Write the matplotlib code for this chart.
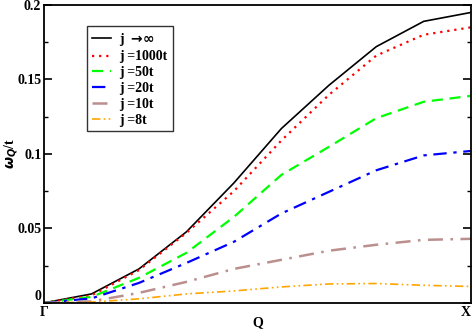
import numpy as np
import matplotlib.pyplot as plt
from matplotlib.ticker import MultipleLocator

plt.rcParams['font.family'] = ['Liberation Serif', 'DejaVu Serif']
plt.rcParams['font.weight'] = 'bold'

q = np.linspace(0, 1, 10)
j_inf = [0, 0.006, 0.0228, 0.0477, 0.0805, 0.117, 0.146, 0.172, 0.189, 0.195]
j_1000 = [0, 0.005, 0.022, 0.047, 0.075, 0.109, 0.1396, 0.166, 0.180, 0.185]
j_50 = [0, 0.004, 0.0168, 0.0336, 0.0577, 0.0859, 0.1047, 0.124, 0.135, 0.139]
j_20 = [0, 0.003, 0.0134, 0.0268, 0.041, 0.060, 0.0745, 0.089, 0.099, 0.102]
j_10 = [0, 0.001, 0.0067, 0.0141, 0.0228, 0.0289, 0.0350, 0.039, 0.0423, 0.043]
j_8 = [0, 0.0005, 0.0027, 0.006, 0.008, 0.0107, 0.0127, 0.0130, 0.0118, 0.0110]

fig = plt.figure(figsize=(4.74, 3.31), dpi=100)
ax = fig.add_axes([0.093, 0.085, 0.901, 0.9])

ax.plot(q, j_inf, color='black', lw=1.2, label=r'j $\rightarrow\!\infty$')
ax.plot(q, j_1000, color='red', lw=1.6, ls=(0, (1, 2.2)), label='j =1000t')
ax.plot(q, j_50, color='#00ff00', lw=1.6, ls=(0, (5, 3)), label='j =50t')
ax.plot(q, j_20, color='blue', lw=1.6, ls=(0, (6, 3, 1.5, 3)), label='j =20t')
ax.plot(q, j_10, color='#bc8f8f', lw=1.8, ls=(0, (6, 3, 1, 3)), label='j =10t')
ax.plot(q, j_8, color='orange', lw=1.2, ls=(0, (5, 2, 1, 2, 1, 2)), label='j =8t')

ax.set_xlim(0, 1)
ax.set_ylim(0, 0.2)
ax.set_xticks([0, 1])
ax.set_xticklabels(['Γ', 'X'])
ax.get_xticklabels()[1].set_horizontalalignment('right')
ax.set_yticks([0, 0.05, 0.1, 0.15, 0.2])
ax.set_yticklabels(['0', '0.05', '0.1', '0.15', '0.2'])
ax.get_yticklabels()[0].set_verticalalignment('bottom')
ax.yaxis.set_minor_locator(MultipleLocator(0.025))
ax.tick_params(axis='y', which='major', direction='in', length=6, width=1.2,
               right=True, labelsize=10, pad=2)
ax.tick_params(axis='y', which='minor', direction='in', length=3, width=1.0, right=True)
ax.tick_params(axis='x', which='major', length=0, labelsize=10, pad=2)
for s in ax.spines.values():
    s.set_linewidth(1.3)

ax.set_xlabel('Q', fontsize=10, fontweight='bold')
ax.xaxis.label.set_verticalalignment('center')
ax.xaxis.set_label_coords(0.5, -0.065)
ax.set_ylabel(r'$\omega_Q$/t', fontsize=10, fontweight='bold')
ax.yaxis.label.set_verticalalignment('center')
ax.yaxis.set_label_coords(-0.078, 0.5)

leg = ax.legend(loc='upper left', bbox_to_anchor=(0.1, 0.93), fontsize=10,
                frameon=True, fancybox=False, edgecolor='black', handlelength=1.4,
                handletextpad=0.6, borderpad=0.35, labelspacing=0.2, borderaxespad=0)
leg.get_frame().set_linewidth(1.0)

fig.savefig('out.png', dpi=100)
